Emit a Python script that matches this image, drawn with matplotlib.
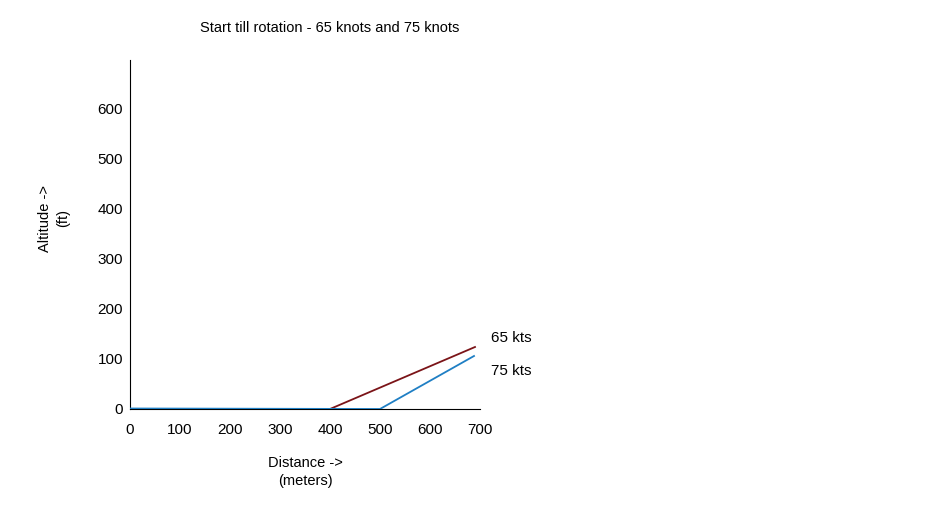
import matplotlib
matplotlib.use("Agg")
import matplotlib.pyplot as plt

plt.rcParams['font.family'] = ['Liberation Sans', 'DejaVu Sans']

# distance (m) vs altitude (ft)
dist_65 = [0, 400, 690]
alt_65 = [0, 0, 124]
dist_75 = [0, 500, 688]
alt_75 = [1, 0, 106]
x_ticks = [0, 100, 200, 300, 400, 500, 600, 700]
y_ticks = [0, 100, 200, 300, 400, 500, 600]

fig = plt.figure(figsize=(9.5, 5.24), dpi=100)
ax = fig.add_axes([130 / 950, 1 - 409 / 524, 350 / 950, 349 / 524])

ax.plot(dist_65, alt_65, color="#7b1418", lw=1.3, zorder=3)
ax.plot(dist_75, alt_75, color="#1f7fc4", lw=1.3, zorder=4)

ax.set_xlim(0, 700)
ax.set_ylim(0, 698)
ax.set_xticks(x_ticks)
ax.set_yticks(y_ticks)
ax.tick_params(length=0, labelsize=11)
ax.tick_params(axis='y', pad=5)
ax.tick_params(axis='x', pad=10)
for s in ["top", "right"]:
    ax.spines[s].set_visible(False)

ax.text(722, 142, "65 kts", fontsize=11, va="center", clip_on=False)
ax.text(722, 76, "75 kts", fontsize=11, va="center", clip_on=False)

fig.text(330 / 950, 1 - 28 / 524, "Start till rotation - 65 knots and 75 knots",
         ha="center", va="center", fontsize=10.5)
fig.text(305 / 950, 1 - 472 / 524, "Distance ->\n(meters)", ha="center",
         va="center", fontsize=10.5, linespacing=1.3)
fig.text(54 / 950, 1 - 218 / 524, "Altitude ->\n(ft)", ha="center",
         va="center", fontsize=10.5, rotation=90, linespacing=1.3)

fig.savefig("out.png", dpi=100)
